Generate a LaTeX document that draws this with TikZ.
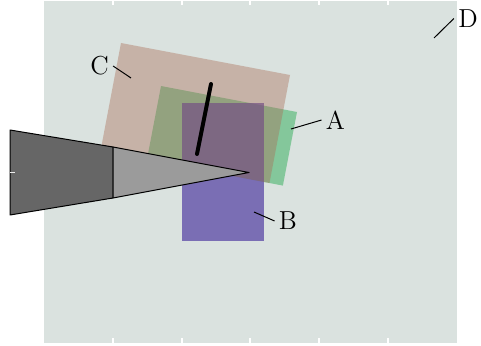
\documentclass[tikz,border=0pt]{standalone}
\usepackage{tikz}
\usetikzlibrary{positioning}

\definecolor{bgD}{RGB}{218,226,223}
\definecolor{patchA}{RGB}{48,174,89}
\definecolor{patchB}{RGB}{82,62,163}
\definecolor{patchC}{RGB}{170,108,85}
\definecolor{penDark}{RGB}{102,102,102}
\definecolor{penLight}{RGB}{155,155,155}

\begin{document}
\begin{tikzpicture}[
    x=0.5pt, y=-0.5pt,
    lab/.style={inner sep=2pt, font=\fontsize{13}{15}\selectfont},
    leader/.style={line width=0.5pt},
    tick/.style={white, line width=0.6pt},
    pen/.style={draw=black, line width=0.5pt, line join=round}
  ]
    \useasboundingbox (0,0) rectangle (481,346);

    %=== D (background) ===%
    \fill[bgD] (44,1) rectangle (457,343);
    \foreach \tx in {113,182,250,319,388}{
      \draw[tick] (\tx,1) -- (\tx,5);
      \draw[tick] (\tx,338) -- (\tx,343);
    }

    %=== A, B, C ===%
    \fill[patchA, fill opacity=0.5]
      (161,86) -- ++(136,26) -- ++(-14.1,73.6) -- ++(-136,-26) -- cycle;
    \fill[patchB, fill opacity=0.7] (181.5,103.5) rectangle (264,241);
    \fill[patchC, fill opacity=0.4]
      (121,43) -- ++(169,32) -- ++(-20.5,108) -- ++(-169,-32) -- cycle;

    % stroke
    \draw[line width=2pt, line cap=round] (211,84) -- (197,154);

    %=== pen ===%
    \filldraw[pen, fill=penDark] (10,130) -- (113,147) -- (113,198) -- (10,215) -- cycle;
    \filldraw[pen, fill=penLight] (113,147) -- (249,172.5) -- (113,198) -- cycle;
    \draw[tick, draw=white!85!gray] (10,172.5) -- (15,172.5);

    %=== labels ===%
    \node[lab] (labC) at (99.5,66) {C};
    \node[lab] (labA) at (335.5,120) {A};
    \node[lab] (labB) at (288,221) {B};
    \node[lab] (labD) at (468,18.5) {D};

    \coordinate (ptC) at (131,78);
    \coordinate (ptA) at (291,129);
    \coordinate (ptB) at (254,212);
    \coordinate (ptD) at (434,38);

    \draw[leader] (labC.east) -- (ptC);
    \draw[leader] (labA.west) -- (ptA);
    \draw[leader] (labB.west) -- (ptB);
    \draw[leader] (labD.west) -- (ptD);

  \end{tikzpicture}
\end{document}
